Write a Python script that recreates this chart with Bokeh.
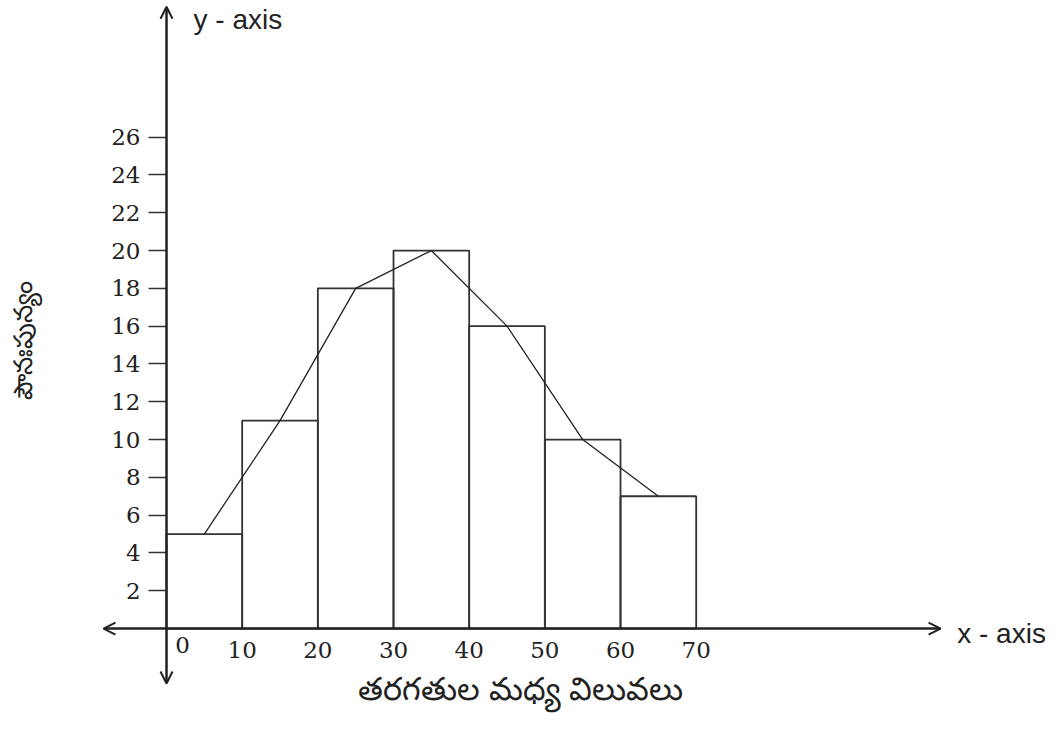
from bokeh.plotting import figure
from bokeh.models import (Range1d, LinearAxis, FixedTicker, Arrow, OpenHead,
                          Label, ColumnDataSource)
from bokeh.embed import file_html
from bokeh.resources import INLINE

# ---- data ----
class_lower = [0, 10, 20, 30, 40, 50, 60]
class_upper = [10, 20, 30, 40, 50, 60, 70]
frequency = [5, 11, 18, 20, 16, 10, 7]
midpoints = [5, 15, 25, 35, 45, 55, 65]
y_ticks = [2, 4, 6, 8, 10, 12, 14, 16, 18, 20, 22, 24, 26]
x_ticks = [10, 20, 30, 40, 50, 60, 70]
origin_label = "0"
x_title = "తరగతుల మధ్య విలువలు"
y_title = "పౌనఃపున్యం"

INK = "#222222"

p = figure(width=1052, height=725,
           x_range=Range1d(-21.94, 117.09), y_range=Range1d(-5.13, 33.23),
           x_axis_type=None, y_axis_type=None,
           min_border=0, toolbar_location=None, output_backend="svg")
p.outline_line_color = None
p.background_fill_color = "white"
p.border_fill_color = "white"

# histogram bars
src = ColumnDataSource(dict(left=class_lower, right=class_upper, top=frequency,
                            bottom=[0] * len(frequency)))
p.quad(left="left", right="right", top="top", bottom="bottom", source=src,
       fill_color=None, line_color="#333333", line_width=1.8)

# frequency polygon
p.line(midpoints, frequency, line_color=INK, line_width=1.3)

# axes lines with arrows
head = dict(size=12, line_color=INK, line_width=2)
p.add_layout(Arrow(x_start=0, y_start=0, x_end=0, y_end=32.9,
                   line_color=INK, line_width=2.5, end=OpenHead(**head)))
p.add_layout(Arrow(x_start=0, y_start=0, x_end=0, y_end=-2.91,
                   line_color=INK, line_width=2.5, end=OpenHead(**head)))
p.add_layout(Arrow(x_start=0, y_start=0, x_end=-8.33, y_end=0,
                   line_color=INK, line_width=2.5, end=OpenHead(**head)))
p.add_layout(Arrow(x_start=0, y_start=0, x_end=102.3, y_end=0,
                   line_color=INK, line_width=2.5, end=OpenHead(**head)))

# y axis ticks / labels
yaxis = LinearAxis(fixed_location=0, ticker=FixedTicker(ticks=y_ticks),
                   axis_line_color=None,
                   major_tick_out=18, major_tick_in=0,
                   major_tick_line_color="#333333", major_tick_line_width=1.5,
                   minor_tick_out=0, minor_tick_in=0,
                   major_label_standoff=8,
                   major_label_text_font="DejaVu Serif",
                   major_label_text_font_size="23px",
                   major_label_text_color=INK)
p.add_layout(yaxis, "left")

# x axis labels
xaxis = LinearAxis(fixed_location=0, ticker=FixedTicker(ticks=x_ticks),
                   axis_line_color=None,
                   major_tick_out=0, major_tick_in=0,
                   minor_tick_out=0, minor_tick_in=0,
                   major_label_standoff=13,
                   major_label_text_font="DejaVu Serif",
                   major_label_text_font_size="23px",
                   major_label_text_color=INK)
p.add_layout(xaxis, "below")

p.add_layout(Label(x=0, y=0, x_offset=16, y_offset=-8, text=origin_label,
                   text_align="center", text_baseline="top",
                   text_font="DejaVu Serif", text_font_size="23px",
                   text_color=INK))

# axis names
p.add_layout(Label(x=3.57, y=32.25, text="y - axis", text_align="left",
                   text_baseline="alphabetic", text_font="Liberation Sans",
                   text_font_size="28px", text_color=INK))
p.add_layout(Label(x=104.5, y=-0.25, text="x - axis", text_align="left",
                   text_baseline="alphabetic", text_font="Liberation Sans",
                   text_font_size="28px", text_color=INK))

# titles
p.add_layout(Label(x=46.8, y=-3.12, text=x_title, text_align="center",
                   text_baseline="middle", text_font="Noto Sans",
                   text_font_size="32px", text_color=INK))
p.add_layout(Label(x=-19.15, y=15.24, text=y_title, text_align="center",
                   text_baseline="middle", angle=1.5708,
                   text_font="Noto Sans",
                   text_font_size="26px", text_color=INK))

open("out.html", "w").write(file_html(p, INLINE))
